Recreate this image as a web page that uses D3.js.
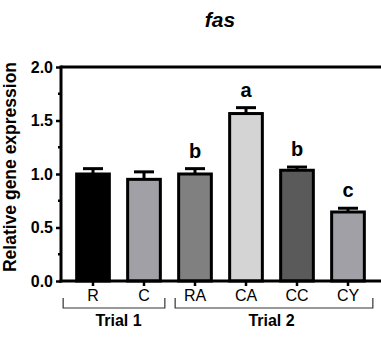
<!DOCTYPE html>
<html>
<head>
<meta charset="utf-8">
<script src="https://cdn.jsdelivr.net/npm/d3@7"></script>
<style>
  body { margin: 0; background: #fff; }
  text { font-family: "Liberation Sans", Arial, sans-serif; }
</style>
</head>
<body>
<div id="chart"></div>
<script>
const categories = ['R', 'C', 'RA', 'CA', 'CC', 'CY'];
const means = [1.00, 0.95, 1.00, 1.565, 1.035, 0.645];
const errors = [0.05, 0.07, 0.05, 0.055, 0.03, 0.035];
const letters = ['', '', 'b', 'a', 'b', 'c'];
const fills = ['#000000', '#a0a0a6', '#808080', '#d4d4d4', '#5a5a5a', '#a0a0a6'];
const trials = [
  { name: 'Trial 1', from: 'R', to: 'C' },
  { name: 'Trial 2', from: 'RA', to: 'CY' }
];
const yTicks = [0, 0.5, 1.0, 1.5, 2.0];
const yMinor = [0.25, 0.75, 1.25, 1.75];

const width = 381, height = 338;
const plotLeft = 61, plotTop = 67, plotBottom = 281;

const svg = d3.select('#chart').append('svg')
  .attr('width', width)
  .attr('height', height);

const x = d3.scaleBand()
  .domain(categories)
  .range([67.5, 373.5])
  .paddingInner(0.3)
  .paddingOuter(0.15);

const y = d3.scaleLinear()
  .domain([0, 2])
  .range([plotBottom, plotTop]);

// title
svg.append('text')
  .attr('x', 220).attr('y', 27)
  .attr('text-anchor', 'middle')
  .style('font-size', '21px')
  .style('font-weight', 'bold')
  .style('font-style', 'italic')
  .text('fas');

// bars
const bw = x.bandwidth();
svg.selectAll('rect.bar')
  .data(categories)
  .join('rect')
  .attr('class', 'bar')
  .attr('x', d => x(d) + 1.5)
  .attr('y', (d, i) => y(means[i]))
  .attr('width', bw - 3)
  .attr('height', (d, i) => plotBottom - y(means[i]))
  .attr('fill', (d, i) => fills[i])
  .attr('stroke', '#000')
  .attr('stroke-width', 3);

// error bars
const err = svg.append('g').attr('stroke', '#000').attr('stroke-width', 3);
categories.forEach((c, i) => {
  const cx = x(c) + bw / 2;
  err.append('line')
    .attr('x1', cx).attr('x2', cx)
    .attr('y1', y(means[i])).attr('y2', y(means[i] + errors[i]));
  err.append('line')
    .attr('x1', cx - 10).attr('x2', cx + 10)
    .attr('y1', y(means[i] + errors[i])).attr('y2', y(means[i] + errors[i]));
});

// significance letters
svg.selectAll('text.sig')
  .data(categories)
  .join('text')
  .attr('class', 'sig')
  .attr('x', d => x(d) + bw / 2)
  .attr('y', (d, i) => y(means[i] + errors[i]) - 11)
  .attr('text-anchor', 'middle')
  .style('font-size', '20px')
  .style('font-weight', 'bold')
  .text((d, i) => letters[i]);

// top frame line
svg.append('line')
  .attr('x1', plotLeft).attr('x2', width)
  .attr('y1', plotTop).attr('y2', plotTop)
  .attr('stroke', '#000').attr('stroke-width', 3);

// y axis
const yAxis = svg.append('g')
  .attr('transform', `translate(${plotLeft},0)`)
  .call(d3.axisLeft(y).tickValues(yTicks).tickFormat(d3.format('.1f')).tickSize(5).tickSizeOuter(0));
yAxis.select('.domain').attr('stroke-width', 3).attr('d', `M0,${plotBottom + 1.5}V${plotTop - 1.5}`);
yAxis.selectAll('.tick line').attr('stroke-width', 2.5);
yAxis.selectAll('.tick text')
  .attr('x', -8)
  .style('font-size', '16px')
  .style('font-weight', 'bold')
  .attr('fill', '#000');
yAxis.selectAll('line.minor')
  .data(yMinor)
  .join('line')
  .attr('class', 'minor')
  .attr('x1', -3).attr('x2', 0)
  .attr('y1', d => y(d)).attr('y2', d => y(d))
  .attr('stroke', '#000').attr('stroke-width', 2.5);

// y label
svg.append('text')
  .attr('transform', `translate(16,167) rotate(-90)`)
  .attr('text-anchor', 'middle')
  .style('font-size', '17.5px')
  .style('font-weight', 'bold')
  .text('Relative gene expression');

// x axis
const xAxis = svg.append('g')
  .attr('transform', `translate(0,${plotBottom})`)
  .call(d3.axisBottom(x).tickSize(5).tickSizeOuter(0));
xAxis.select('.domain').attr('stroke-width', 3).attr('d', `M${plotLeft - 1.5},0H${width}`);
xAxis.selectAll('.tick line').attr('stroke-width', 2.5);
xAxis.selectAll('.tick text')
  .attr('y', 9)
  .style('font-size', '16px')
  .attr('fill', '#000');

// trial brackets
const by = 308, bUp = 10;
trials.forEach((t, i) => {
  const x0 = x(t.from) - (i === 0 ? 12 : 2);
  const x1 = x(t.to) + bw + (i === 0 ? 3 : 7);
  svg.append('path')
    .attr('d', `M${x0},${by - bUp}V${by}H${x1}V${by - bUp}`)
    .attr('fill', 'none')
    .attr('stroke', '#333')
    .attr('stroke-width', 1.2);
  svg.append('text')
    .attr('x', (x(t.from) + x(t.to) + bw) / 2)
    .attr('y', 326)
    .attr('text-anchor', 'middle')
    .style('font-size', '16px')
    .style('font-weight', 'bold')
    .text(t.name);
});
</script>
</body>
</html>
